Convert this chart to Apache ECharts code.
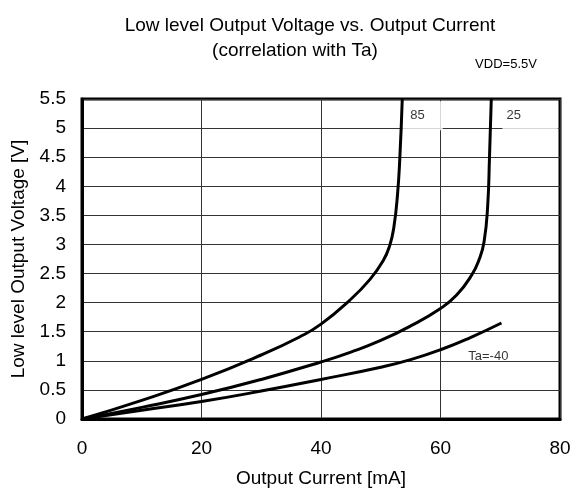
<!DOCTYPE html>
<html>
<head>
<meta charset="utf-8">
<script src="https://cdn.jsdelivr.net/npm/echarts@6/dist/echarts.min.js"></script>
<style>
html,body{margin:0;padding:0;background:#fff;}
#chart{width:584px;height:494px;}
</style>
</head>
<body>
<div id="chart"></div>
<script>
// Output current [mA], output voltage [V]
const curveTaM40 = [[0,0],[10,0.15],[20,0.30],[30,0.48],[40,0.68],[50,0.89],[55,1.02],[60,1.19],[65,1.40],[70.2,1.65]];
const curveTa25 = [[0,0],[10,0.2],[20,0.42],[30,0.68],[40,0.98],[45,1.15],[50,1.35],[55,1.6],[60,1.9],[62.7,2.13],[65.2,2.47],[66.5,2.75],[67.3,3.05],[67.9,3.67],[68.2,4.5],[68.5,5.5]];
const curveTa85 = [[0,0],[10,0.32],[20,0.68],[30,1.1],[36.4,1.41],[40,1.63],[44.8,2.04],[48.2,2.4],[50.4,2.72],[51.5,2.98],[52.2,3.3],[52.8,3.85],[53.2,4.5],[53.6,5.5]];
const xTicks = [0,20,40,60,80];
const yTicks = [0,0.5,1,1.5,2,2.5,3,3.5,4,4.5,5,5.5];
const curveLabels = ['85','25','Ta=-40'];
const curveLabelAnchors = [[57.0,5.21],[75.0,5.21],[68.0,1.07]];

const FONT = 'Liberation Sans, Arial, sans-serif';
const chart = echarts.init(document.getElementById('chart'));
const lineStyle = {color:'#000', width:3};
function curve(data){
  return {type:'line', data:data, smooth:0.5, showSymbol:false, symbol:'none',
          lineStyle:lineStyle, z:3, silent:true};
}
chart.setOption({
  animation:false,
  backgroundColor:'#fff',
  title:[
    {text:'Low level Output Voltage vs. Output Current', left:305, top:11, textAlign:'center',
     textStyle:{fontFamily:FONT, fontSize:19, fontWeight:'normal', color:'#000'}},
    {text:'(correlation with Ta)', left:290, top:36, textAlign:'center',
     textStyle:{fontFamily:FONT, fontSize:19, fontWeight:'normal', color:'#000'}},
    {text:'VDD=5.5V', left:501, top:53, textAlign:'center',
     textStyle:{fontFamily:FONT, fontSize:13, fontWeight:'normal', color:'#000'}}
  ],
  grid:{left:82, right:24, top:99, bottom:75, show:true, borderColor:'#000', borderWidth:3, backgroundColor:'transparent'},
  xAxis:{type:'value', min:0, max:80, interval:20,
    name:'Output Current [mA]', nameLocation:'middle', nameGap:50,
    nameTextStyle:{fontFamily:FONT, fontSize:19, color:'#000'},
    axisLine:{show:true, lineStyle:{color:'#000', width:3}},
    axisTick:{show:false},
    axisLabel:{fontFamily:FONT, fontSize:19, color:'#000', margin:20},
    splitLine:{show:true, lineStyle:{color:'#333', width:1}}
  },
  yAxis:{type:'value', min:0, max:5.5, interval:0.5,
    name:'Low level Output Voltage [V]', nameLocation:'middle', nameGap:47,
    nameTextStyle:{fontFamily:FONT, fontSize:19, color:'#000'},
    axisLine:{show:true, lineStyle:{color:'#000', width:3}},
    axisTick:{show:false},
    axisLabel:{fontFamily:FONT, fontSize:19, color:'#000', margin:16},
    splitLine:{show:true, lineStyle:{color:'#333', width:1}}
  },
  series:[
    curve(curveTaM40), curve(curveTa25), curve(curveTa85),
    {type:'scatter', symbolSize:0, silent:true, z:2,
     data:[
       {name:curveLabels[0], value:curveLabelAnchors[0], label:{backgroundColor:'#fff', padding:[12,18,4,8]}},
       {name:curveLabels[1], value:curveLabelAnchors[1], label:{backgroundColor:'#fff', padding:[12,37,4,4]}},
       {name:curveLabels[2], value:curveLabelAnchors[2]}
     ],
     label:{show:true, position:'inside', formatter:'{b}', fontFamily:FONT, fontSize:13, color:'#000'}
    }
  ]
});
</script>
</body>
</html>
